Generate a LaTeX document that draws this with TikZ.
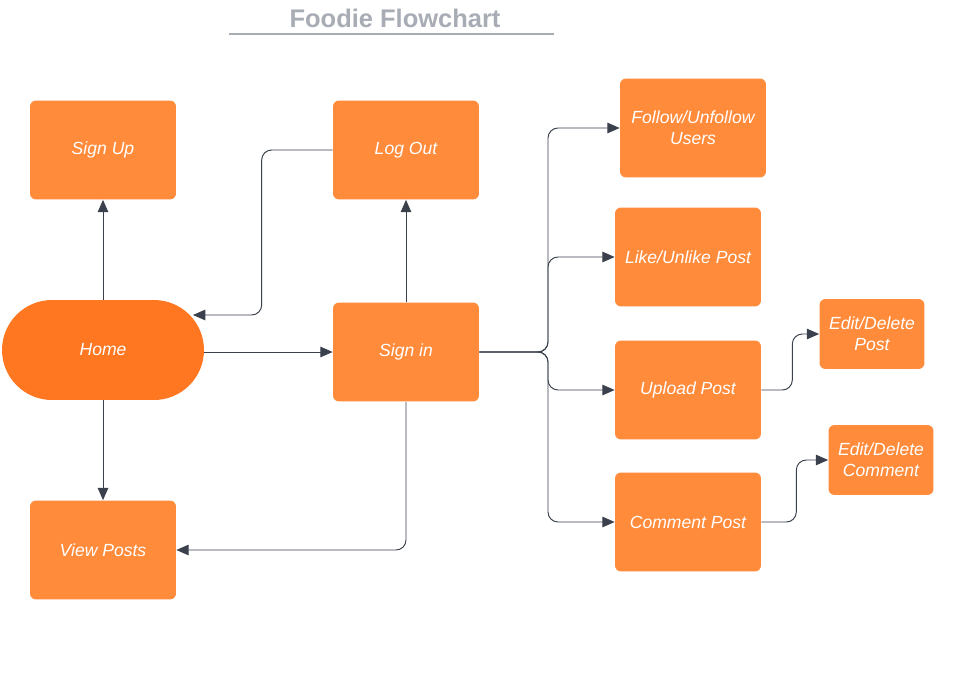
\documentclass[tikz,border=0pt]{standalone}
\usepackage{fontspec}
\setmainfont{Liberation Sans}
\usetikzlibrary{arrows.meta}

\definecolor{caixa}{HTML}{FF8B3B}
\definecolor{inicio}{HTML}{FF7721}
\definecolor{seta}{HTML}{3A414D}
\definecolor{titulo}{HTML}{A8ACB4}

\tikzset{
  caixa/.style={draw=none, fill=caixa, rounded corners=0.12cm,
    minimum width=2.92cm, minimum height=1.98cm, align=center,
    text=white, font=\fontsize{10}{12}\selectfont\itshape},
  caixinha/.style={caixa, minimum width=2.1cm, minimum height=1.4cm},
  seta/.style={draw=seta, line width=0.55pt, rounded corners=0.2cm,
    -{Triangle[length=7pt,width=6pt]}}
}

\begin{document}
\begin{tikzpicture}[x=0.02cm, y=-0.02cm]

% Fundo
\useasboundingbox[fill=white] (0,0) rectangle (961,676);

% TITULO
\node[text=titulo, font=\fontsize{14.5}{16}\selectfont\bfseries] (titulo) at (395,18) {Foodie Flowchart};
\draw[titulo, line width=1.1pt] (229,34) -- (554,34);

% BLOCOS DA ESQUERDA
\node[caixa, fill=inicio, minimum width=4.04cm, minimum height=2cm,
  rounded corners=1cm] (home) at (103,350) {Home};
\node[caixa] (signup) at (103,150) {Sign Up};
\node[caixa] (viewposts) at (103,550) {View Posts};

% BLOCOS DO MEIO
\node[caixa] (signin) at (406,352) {Sign in};
\node[caixa] (logout) at (406,150) {Log Out};

% BLOCOS DA DIREITA
\node[caixa] (follow) at (693,128) {Follow/Unfollow\\Users};
\node[caixa] (like) at (688,257) {Like/Unlike Post};
\node[caixa] (upload) at (688,390) {Upload Post};
\node[caixa] (comment) at (688,522) {Comment Post};
\node[caixinha] (editpost) at (872,334) {Edit/Delete\\Post};
\node[caixinha] (editcomment) at (881,460) {Edit/Delete\\Comment};

% SETAS DA HOME
\draw[seta] (home.north) -- (signup.south);
\draw[seta] (home.south) -- (viewposts.north);
\draw[seta] (home.east |- signin.west) -- (signin.west);

% SETAS DO SIGN IN
\draw[seta] (signin.north) -- (logout.south);
\draw[seta] (signin.south) |- (viewposts.east);

% LOG OUT DE VOLTA PARA HOME
\coordinate (homein) at (193,315);
\draw[seta] (logout.west) -- ++(-71,0) |- (homein);

% RAMIFICACAO
\coordinate (ramo) at (548,352);
\draw[seta] (signin.east) -- (ramo) |- (follow.west);
\draw[seta] (signin.east) -- (ramo) |- (like.west);
\draw[seta] (signin.east) -- (ramo) |- (upload.west);
\draw[seta] (signin.east) -- (ramo) |- (comment.west);

% EDITAR / APAGAR
\draw[seta] (upload.east) -- ++(31,0) |- (editpost.west);
\draw[seta] (comment.east) -- ++(35,0) |- (editcomment.west);

\end{tikzpicture}
\end{document}
